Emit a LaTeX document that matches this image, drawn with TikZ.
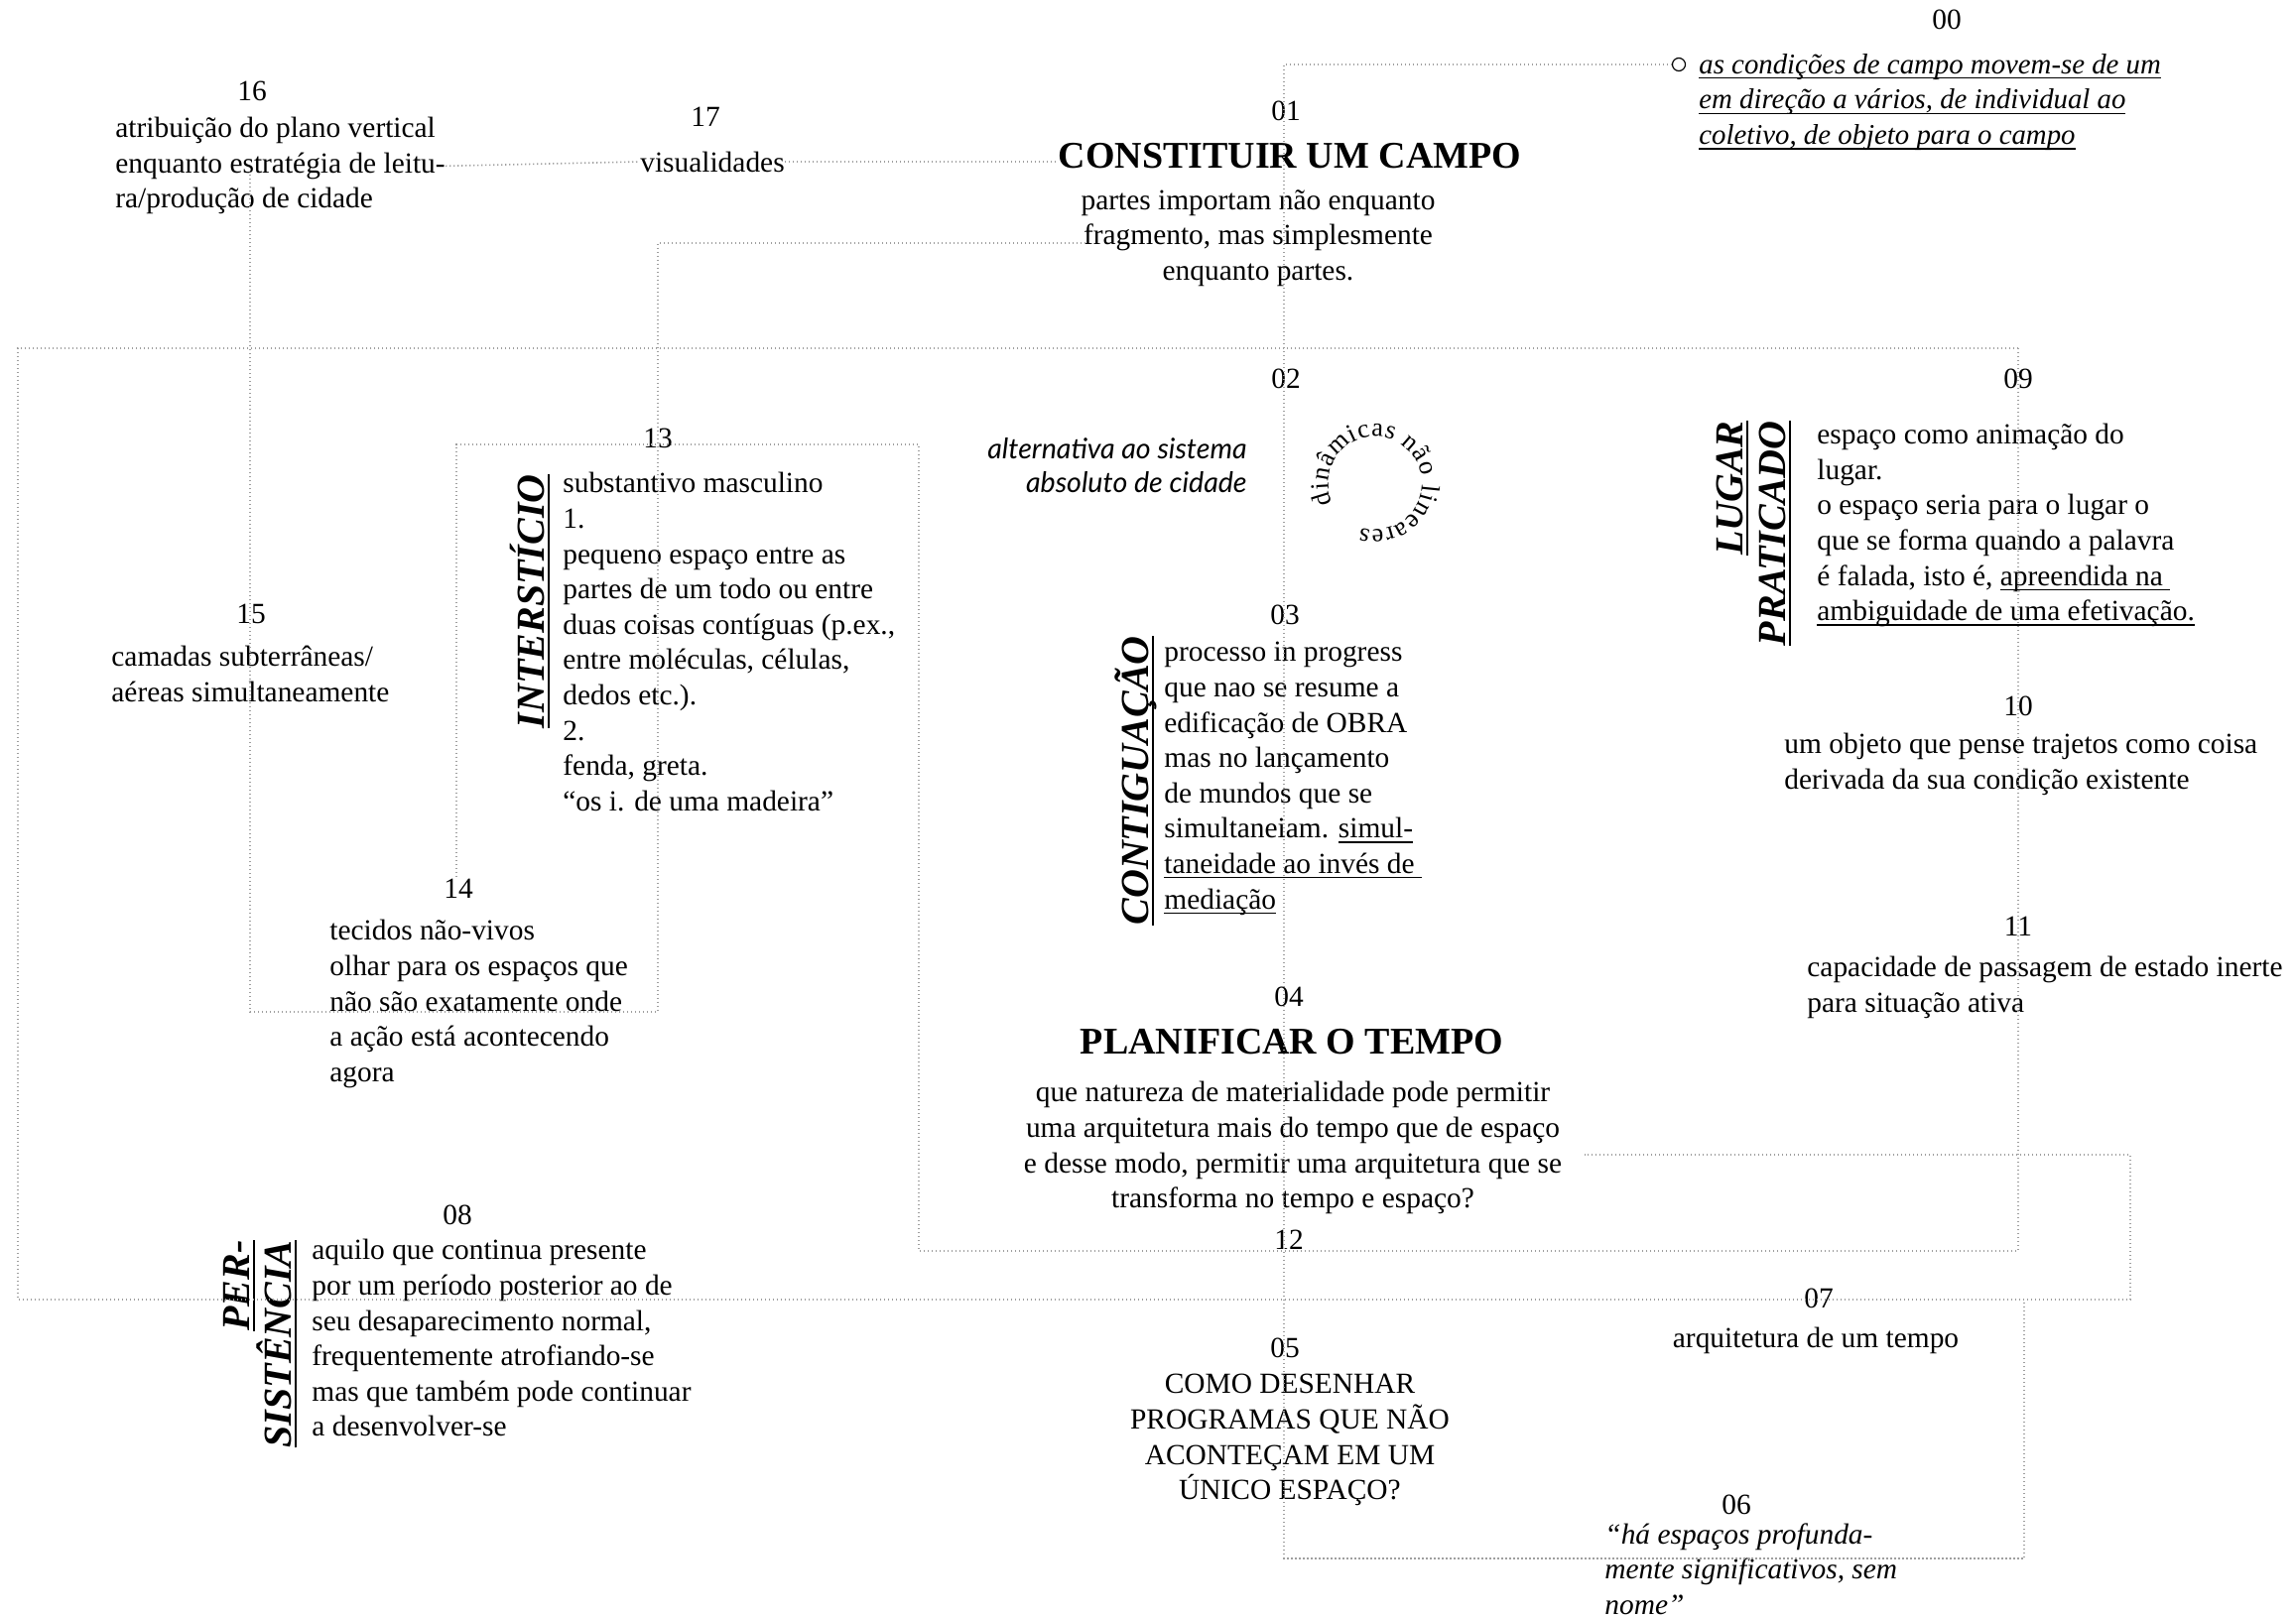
\documentclass[tikz,border=0pt]{standalone}
\usepackage{fontspec}
\setmainfont{Liberation Serif}
\newfontfamily\altsans{Lato}
\usetikzlibrary{decorations.text}

\newcommand\bodyfont{\fontsize{14.7}{17.8}\selectfont}
\newcommand\titlefont{\fontsize{19}{22}\selectfont\bfseries}
\newcommand\headfont{\fontsize{20}{22}\selectfont\bfseries\itshape}
\newcommand\circfont{\fontsize{13.2}{15}\selectfont}
\newsavebox\ulbx
% underline with a rule of a given thickness
\newcommand\ulrule[2][0.7pt]{\sbox\ulbx{#2}\leavevmode\rlap{\vrule height -1.8pt depth \dimexpr1.8pt+#1\relax width \wd\ulbx}\usebox\ulbx}

\tikzset{
  guide/.style={gray!75, line width=0.8pt, dash pattern=on 0.7pt off 1.3pt},
  txt/.style={inner sep=0pt, font=\bodyfont, align=left, anchor=north west},
  ctxt/.style={inner sep=0pt, font=\bodyfont, align=center, anchor=north},
  num/.style={inner sep=0pt, font=\bodyfont, anchor=base},
  title/.style={inner sep=0pt, font=\titlefont},
  head/.style={inner sep=0pt, font=\headfont, rotate=90, anchor=base east},
}

\begin{document}
\begin{tikzpicture}[x=0.5pt, y=-0.5pt]
\useasboundingbox (0,0) rectangle (2314,1631);

% corners of the dotted frame
\coordinate (spinetop) at (1294,65);
\coordinate (spinebot) at (1294,1571);
\coordinate (box06r)   at (2040,1571);
\coordinate (box06t)   at (2040,1310);
\coordinate (frameTL)  at (18,351);
\coordinate (frameBL)  at (18,1310);
\coordinate (frameBR)  at (2147,1310);
\coordinate (frameTR)  at (2034,351);
\coordinate (frame04)  at (2147,1164);
\coordinate (link04)   at (1597,1164);
\coordinate (line12R)  at (2034,1261);
\coordinate (line12L)  at (926,1261);
\coordinate (box13R)   at (926,448);
\coordinate (box13L)   at (460,448);
\coordinate (link14)   at (460,885);
\coordinate (v16top)   at (252,173);
\coordinate (v16bot)   at (252,1020);
\coordinate (v17bot)   at (663,1020);
\coordinate (v17top)   at (663,245);
\coordinate (link01)   at (1094,245);

% texts
\node[txt] (t16) at (116,118) {atribuição do plano vertical\\enquanto estratégia de leitu-\\ra/produção de cidade};
\node[inner sep=0pt, font=\bodyfont] (t17) at (718,163) {visualidades};
\node[title] (t01) at (1300,157) {CONSTITUIR UM CAMPO};
\node[ctxt] (b01) at (1268,191) {partes importam não enquanto\\fragmento, mas simplesmente\\enquanto partes.};
\node[txt, font=\fontsize{14.4}{17.8}\selectfont\itshape] (t00) at (1712,54) {\ulrule{as condições de campo movem-se de um}\\\ulrule{em direção a vários, de individual ao}\\\ulrule{coletivo, de objeto para o campo}};
\node[draw, circle, inner sep=0pt, minimum size=6.5pt, line width=0.6pt] (c00) at (1692,65) {};

\node[inner sep=0pt, font=\fontsize{14.3}{17}\selectfont\altsans\itshape, align=right, anchor=north east] (t02) at (1257,441) {alternativa ao sistema\\absoluto de cidade};
\coordinate (circ) at (1386,487);
\path[decorate, decoration={text along path, text={|\circfont|dinâmicas não lineares}, text align=fit to path}]
  (circ) ++(-205:47) arc[start angle=-205, end angle=108, radius=47];

\node[head] (h13) at (548,478) {\ulrule[1.2pt]{INTERSTÍCIO}};
\node[txt] (t13) at (567,476) {substantivo masculino\\1.\\pequeno espaço entre as\\partes de um todo ou entre\\duas coisas contíguas (p.ex.,\\entre moléculas, células,\\dedos etc.).\\2.\\fenda, greta.\\“os i. de uma madeira”};
\node[txt] (t15) at (112,651) {camadas subterrâneas/\\aéreas simultaneamente};
\node[txt] (t14) at (332,927) {tecidos não-vivos\\olhar para os espaços que\\não são exatamente onde\\a ação está acontecendo\\agora};

\node[head] (h03) at (1157,641) {\ulrule[1.2pt]{CONTIGUAÇÃO}};
\node[txt] (t03) at (1173,647) {processo in progress\\que nao se resume a\\edificação de OBRA\\mas no lançamento\\de mundos que se\\simultaneiam. \ulrule{simul-}\\\ulrule{taneidade ao invés de\ }\\\ulrule{mediação}};

\node[title] (t04) at (1302,1050) {PLANIFICAR O TEMPO};
\node[ctxt] (b04) at (1303,1090) {que natureza de materialidade pode permitir\\uma arquitetura mais do tempo que de espaço\\e desse modo, permitir uma arquitetura que se\\transforma no tempo e espaço?};
\node[ctxt] (t05) at (1300,1385) {COMO DESENHAR\\PROGRAMAS QUE NÃO\\ACONTEÇAM EM UM\\ÚNICO ESPAÇO?};
\node[txt, font=\bodyfont\itshape] (t06) at (1617,1535) {“há espaços profunda-\\mente significativos, sem\\nome”};
\node[inner sep=0pt, font=\bodyfont] (t07) at (1830,1351) {arquitetura de um tempo};

\node[head] (h08a) at (251,1250) {\ulrule[1.2pt]{PER-}};
\node[head] (h08b) at (293,1250) {\ulrule[1.2pt]{SISTÊNCIA}};
\node[txt] (t08) at (314,1249) {aquilo que continua presente\\por um período posterior ao de\\seu desaparecimento normal,\\frequentemente atrofiando-se\\mas que também pode continuar\\a desenvolver-se};

\node[head] (h09a) at (1756,424) {\ulrule[1.2pt]{LUGAR}};
\node[head] (h09b) at (1799,424) {\ulrule[1.2pt]{PRATICADO}};
\node[txt] (t09) at (1831,427) {espaço como animação do\\lugar.\\o espaço seria para o lugar o\\que se forma quando a palavra\\é falada, isto é, \ulrule{apreendida na\ }\\\ulrule{ambiguidade de uma efetivação.}};
\node[txt] (t10) at (1798,739) {um objeto que pense trajetos como coisa\\derivada da sua condição existente};
\node[txt] (t11) at (1821,964) {capacidade de passagem de estado inerte\\para situação ativa};

% numbers
\node[num] (n00) at (1962,30) {00};
\node[num] (n01) at (1296,122) {01};
\node[num] (n02) at (1296,392) {02};
\node[num] (n03) at (1295,629) {03};
\node[num] (n04) at (1299,1014) {04};
\node[num] (n05) at (1295,1368) {05};
\node[num] (n06) at (1750,1526) {06};
\node[num] (n07) at (1833,1318) {07};
\node[num] (n08) at (461,1234) {08};
\node[num] (n09) at (2034,392) {09};
\node[num] (n10) at (2034,721) {10};
\node[num] (n11) at (2034,943) {11};
\node[num] (n12) at (1299,1259) {12};
\node[num] (n13) at (663,452) {13};
\node[num] (n14) at (462,905) {14};
\node[num] (n15) at (253,628) {15};
\node[num] (n16) at (254,102) {16};
\node[num] (n17) at (711,128) {17};

% dotted connectors
\begin{scope}[guide]
  \draw (c00.west) -- (spinetop) -- (spinebot) -- (box06r) -- (box06t);
  \draw (t16.east) -- (t17.west);
  \draw (t17.east) -- (t01.west |- t17.east);
  \draw (link01) -- (v17top) -- (v17bot) -- (v16bot) -- (v16top);
  \draw (frameTR) -- (frameTL) -- (frameBL) -- (frameBR) -- (frame04) -- (link04);
  \draw (frameTR) -- (line12R) -- (line12L) -- (box13R) -- (box13L) -- (link14);
\end{scope}
\end{tikzpicture}
\end{document}
